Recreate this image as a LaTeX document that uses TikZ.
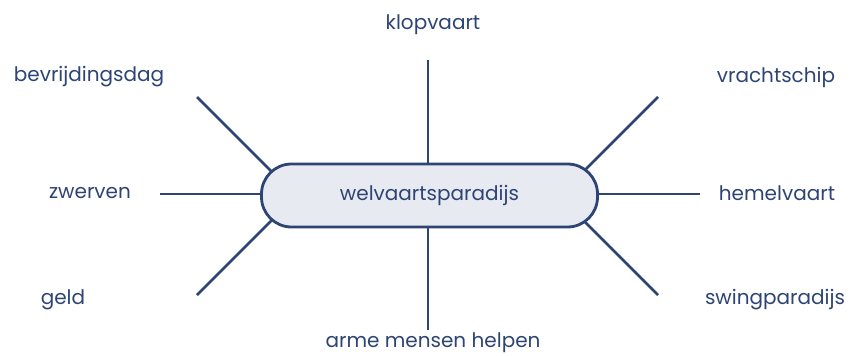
\documentclass[tikz,border=0pt]{standalone}
\usepackage{fontspec}
\setmainfont{Poppins}
\usetikzlibrary{positioning}
\definecolor{woordblauw}{HTML}{2D4474}
\definecolor{kernvulling}{HTML}{E7EAF1}
\tikzset{
    woord/.style={text=woordblauw, font=\fontsize{20}{24}\selectfont},
    spaak/.style={woordblauw, line width=2.8pt},
    kern/.style={draw=woordblauw, fill=kernvulling, line width=2.8pt, rounded corners=30pt,
        minimum width=336pt, minimum height=63pt, text=woordblauw, font=\fontsize{20}{24}\selectfont}
}
\begin{document}
\begin{tikzpicture}[x=1pt, y=-1pt]
            \useasboundingbox (0,0) rectangle (855,356);
            % buitenste uiteinden van de spaken
            \coordinate (boven) at (428,60);
            \coordinate (onder) at (428,330);
            \coordinate (links) at (160,194);
            \coordinate (rechts) at (700,194);
            \coordinate (linksboven) at (197,97);
            \coordinate (linksonder) at (197,295);
            \coordinate (rechtsboven) at (658,97);
            \coordinate (rechtsonder) at (658,295);
            % binnenste uiteinden (onder de kern)
            \coordinate (boven-in) at (428,180);
            \coordinate (onder-in) at (428,210);
            \coordinate (links-in) at (280,194);
            \coordinate (rechts-in) at (580,194);
            \coordinate (linksboven-in) at (282,182);
            \coordinate (linksonder-in) at (282,210);
            \coordinate (rechtsboven-in) at (574,181);
            \coordinate (rechtsonder-in) at (574,211);
            \draw[spaak] (boven) -- (boven-in);
            \draw[spaak] (onder) -- (onder-in);
            \draw[spaak] (links) -- (links-in);
            \draw[spaak] (rechts) -- (rechts-in);
            \draw[spaak] (linksboven) -- (linksboven-in);
            \draw[spaak] (linksonder) -- (linksonder-in);
            \draw[spaak] (rechtsboven) -- (rechtsboven-in);
            \draw[spaak] (rechtsonder) -- (rechtsonder-in);
            \node[kern] (welvaart) at (429.5,195.5) {welvaartsparadijs};
            % woorden rondom
            \node[woord] (klopvaart) at (433,25) {klopvaart};
            \node[woord] (bevrijding) at (89,77) {bevrijdingsdag};
            \node[woord] (zwerven) at (90,193) {zwerven};
            \node[woord] (geld) at (63,300) {geld};
            \node[woord] (vracht) at (776,77) {vrachtschip};
            \node[woord] (hemel) at (777,193) {hemelvaart};
            \node[woord] (swing) at (775,300) {swingparadijs};
            \node[woord] (arme) at (433,343) {arme mensen helpen};
        \end{tikzpicture}
\end{document}
